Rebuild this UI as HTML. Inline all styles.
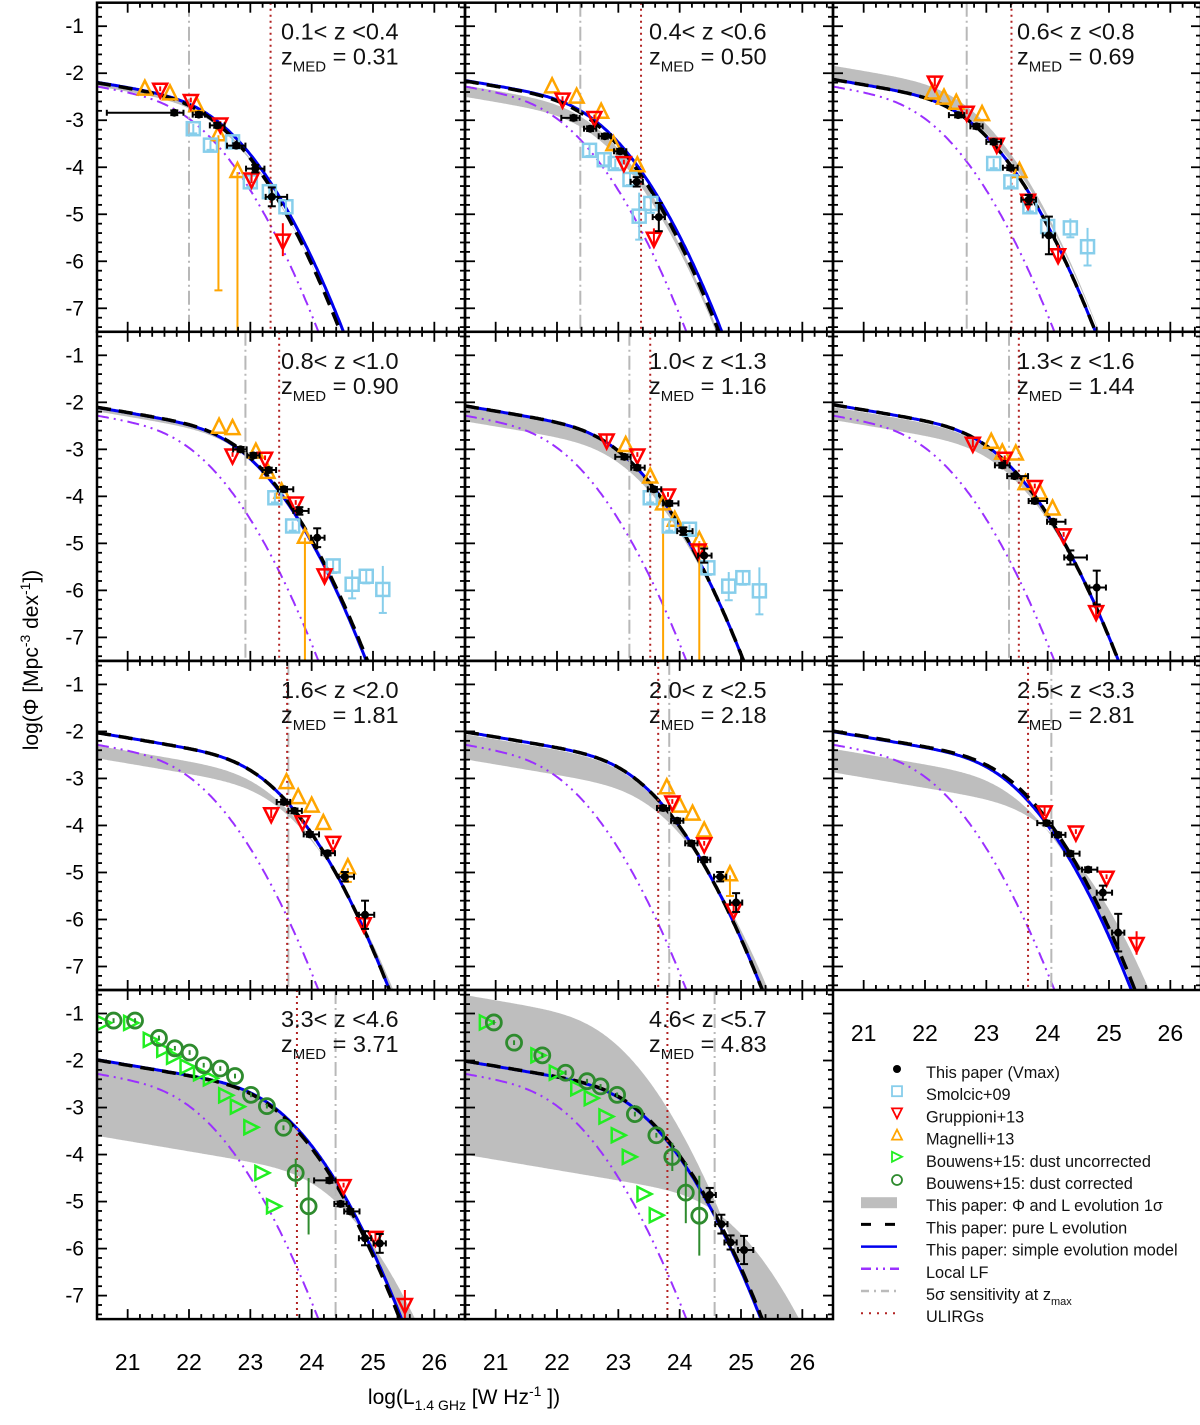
<!DOCTYPE html>
<html><head><meta charset="utf-8"><title>Radio luminosity functions</title>
<style>
html,body{margin:0;padding:0;background:#fff;overflow:hidden;width:1200px;height:1425px;}
svg{display:block;position:absolute;left:0;top:0;font-family:"Liberation Sans",Arial,sans-serif;}
</style></head>
<body>
<svg id="fig" xmlns="http://www.w3.org/2000/svg" width="1200" height="1425" viewBox="0 0 1200 1425" overflow="hidden">
<rect x="0" y="0" width="1200" height="1425" fill="#fff"/>
<text transform="translate(38,660) rotate(-90)" text-anchor="middle" font-size="21">log(Φ [Mpc<tspan dy="-8" font-size="14">-3</tspan><tspan dy="8"> dex</tspan><tspan dy="-8" font-size="14">-1</tspan><tspan dy="8">])</tspan></text>
<text x="464" y="1404" text-anchor="middle" font-size="21">log(L<tspan dy="6" font-size="14">1.4 GHz</tspan><tspan dy="-6"> [W Hz</tspan><tspan dy="-8" font-size="14">-1</tspan><tspan dy="8"> ])</tspan></text>
</svg>
<script>
// ---------- data (per panel, 11 panels) ----------
const zRanges = ["0.1< z <0.4","0.4< z <0.6","0.6< z <0.8","0.8< z <1.0","1.0< z <1.3","1.3< z <1.6","1.6< z <2.0","2.0< z <2.5","2.5< z <3.3","3.3< z <4.6","4.6< z <5.7"];
const zMeds = [0.31,0.50,0.69,0.90,1.16,1.44,1.81,2.18,2.81,3.71,4.83];
const sensLines = [22.0,22.38,22.68,22.92,23.18,23.37,23.62,23.83,24.06,24.39,24.57];
const ulirgLines = [23.33,23.37,23.41,23.47,23.52,23.53,23.60,23.65,23.68,23.76,23.80];
// band edges: [densityShift1, lumShift1, densityShift2, lumShift2]
const bandParams = [[0,0,-0.08,0.02],[-0.1,0.02,-0.35,0.06],[0,0.05,0.3,-0.03],[0,0.02,-0.1,0.05],[0,0,-0.35,0.1],[-0.05,0,-0.35,0.12],[-0.3,0.1,-0.6,0.25],[-0.05,0,-0.65,0.3],[-0.4,0.1,-1.0,0.55],[0,0,-1.8,0.85],[1.5,-0.45,-2.3,1.4]];
const blueDelta = [0.05,0.05,0.0,-0.02,0.0,0.0,0.0,0.0,-0.06,0.03,-0.02];
const xTicks = [21,22,23,24,25,26];
const yTicks = [-1,-2,-3,-4,-5,-6,-7];
// Vmax points: [logL, logPhi, xerrLo, xerrHi, yerr]
const vmaxData = [
 [[21.76,-2.84,1.1,0.15,0.05],[22.16,-2.88,0.1,0.1,0.05],[22.46,-3.11,0.12,0.12,0.05],[22.77,-3.54,0.15,0.15,0.05],[23.08,-4.03,0.15,0.15,0.08],[23.35,-4.63,0.1,0.25,0.2]],
 [[22.27,-2.95,0.2,0.1,0.05],[22.54,-3.18,0.1,0.1,0.05],[22.78,-3.34,0.1,0.1,0.05],[23.03,-3.66,0.1,0.1,0.05],[23.30,-4.31,0.1,0.1,0.1],[23.66,-5.06,0.1,0.1,0.3]],
 [[22.54,-2.89,0.15,0.1,0.05],[22.84,-3.13,0.1,0.1,0.05],[23.12,-3.46,0.12,0.12,0.05],[23.39,-4.01,0.12,0.12,0.05],[23.69,-4.69,0.12,0.12,0.1],[24.02,-5.45,0.1,0.1,0.4]],
 [[22.84,-3.00,0.12,0.1,0.05],[23.05,-3.13,0.1,0.1,0.05],[23.30,-3.44,0.1,0.12,0.05],[23.55,-3.85,0.1,0.15,0.05],[23.80,-4.31,0.1,0.15,0.08],[24.09,-4.88,0.1,0.12,0.2]],
 [[23.10,-3.16,0.15,0.1,0.05],[23.31,-3.39,0.1,0.12,0.05],[23.58,-3.85,0.1,0.12,0.05],[23.83,-4.15,0.1,0.15,0.05],[24.06,-4.74,0.1,0.15,0.08],[24.40,-5.26,0.1,0.12,0.15]],
 [[23.26,-3.34,0.12,0.12,0.05],[23.46,-3.57,0.12,0.22,0.05],[23.79,-4.10,0.1,0.2,0.05],[24.09,-4.54,0.1,0.2,0.05],[24.37,-5.30,0.1,0.27,0.15],[24.80,-5.94,0.12,0.15,0.36]],
 [[23.55,-3.50,0.12,0.1,0.05],[23.72,-3.69,0.1,0.12,0.05],[23.97,-4.19,0.1,0.15,0.05],[24.26,-4.59,0.1,0.12,0.05],[24.54,-5.09,0.1,0.15,0.1],[24.87,-5.90,0.1,0.15,0.3]],
 [[23.73,-3.63,0.1,0.1,0.05],[23.96,-3.90,0.1,0.1,0.05],[24.19,-4.38,0.1,0.1,0.05],[24.40,-4.73,0.1,0.1,0.05],[24.66,-5.09,0.1,0.1,0.1],[24.92,-5.64,0.1,0.1,0.2]],
 [[23.98,-3.95,0.15,0.1,0.05],[24.17,-4.20,0.1,0.12,0.05],[24.37,-4.60,0.1,0.15,0.05],[24.66,-4.94,0.1,0.15,0.05],[24.90,-5.43,0.1,0.15,0.15],[25.15,-6.28,0.1,0.1,0.4]],
 [[24.29,-4.55,0.25,0.1,0.05],[24.47,-5.05,0.1,0.1,0.05],[24.63,-5.21,0.1,0.15,0.05],[24.87,-5.78,0.1,0.1,0.15],[25.11,-5.89,0.1,0.1,0.2]],
 [[24.49,-4.86,0.1,0.1,0.15],[24.68,-5.48,0.1,0.1,0.2],[24.83,-5.87,0.1,0.1,0.15],[25.05,-6.03,0.1,0.15,0.3]]
];
// Smolcic+09 squares: [logL, logPhi, yerr]
const smolcicData = [
 [[22.07,-3.18,0.1],[22.35,-3.53,0.1],[22.71,-3.46,0.1],[23.0,-4.31,0.1],[23.31,-4.52,0.15],[23.58,-4.84,0.15]],
 [[22.53,-3.64,0.12],[22.77,-3.84,0.12],[22.95,-3.92,0.1],[23.19,-4.26,0.12],[23.34,-5.04,0.5],[23.53,-4.77,0.2]],
 [[23.12,-3.92,0.1],[23.40,-4.31,0.1],[23.71,-4.84,0.1],[24.0,-5.26,0.15],[24.37,-5.29,0.2],[24.65,-5.69,0.4]],
 [[23.40,-4.03,0.1],[23.69,-4.63,0.1],[24.35,-5.48,0.15],[24.66,-5.87,0.3],[24.89,-5.70,0.15],[25.16,-5.98,0.5]],
 [[23.52,-4.03,0.1],[23.83,-4.63,0.1],[24.16,-4.70,0.1],[24.46,-5.52,0.15],[24.80,-5.91,0.3],[25.03,-5.73,0.15],[25.30,-6.01,0.5]],
 [],[],[],[],[],[]
];
// Gruppioni+13 down-triangles: [logL, logPhi, yerr]
const gruppioniData = [
 [[21.53,-2.33,0.05],[22.03,-2.57,0.05],[22.51,-3.07,0.05],[23.02,-4.24,0.1],[23.53,-5.54,0.35]],
 [[22.09,-2.54,0.05],[22.61,-2.93,0.05],[23.09,-3.89,0.05],[23.58,-5.50,0.2]],
 [[22.16,-2.18,0.1],[22.68,-2.82,0.05],[23.17,-3.50,0.05],[23.68,-4.69,0.05],[24.17,-5.85,0.2]],
 [[22.71,-3.11,0.05],[23.24,-3.18,0.05],[23.74,-4.13,0.05],[24.21,-5.66,0.2]],
 [[22.81,-2.79,0.1],[23.31,-3.11,0.05],[23.81,-3.96,0.05],[24.31,-5.13,0.1]],
 [[22.78,-2.86,0.1],[23.30,-3.18,0.05],[23.79,-3.78,0.05],[24.26,-4.81,0.05],[24.79,-6.44,0.2]],
 [[23.34,-3.74,0.1],[23.85,-3.91,0.05],[24.35,-4.35,0.05],[24.85,-6.08,0.2]],
 [[23.88,-3.49,0.05],[24.40,-4.38,0.05],[24.88,-5.79,0.1]],
 [[23.95,-3.70,0.1],[24.46,-4.13,0.05],[24.96,-5.09,0.05],[25.45,-6.50,0.25]],
 [[24.52,-4.65,0.05],[25.04,-5.75,0.1],[25.52,-7.18,0.3]],
 []
];
// Magnelli+13 up-triangles: [logL, logPhi, lowerErrEnd (logPhi) or null]
const magnelliData = [
 [[21.28,-2.35,null],[21.69,-2.45,null],[22.12,-2.70,null],[22.48,-3.32,-6.62],[22.79,-4.10,-7.5]],
 [[21.92,-2.30,null],[22.32,-2.52,null],[22.72,-2.84,null],[22.92,-3.53,null],[23.31,-3.98,null]],
 [[22.12,-2.43,null],[22.31,-2.54,null],[22.51,-2.65,null],[22.93,-2.89,null],[23.54,-4.10,null]],
 [[22.49,-2.54,null],[22.71,-2.57,null],[23.09,-3.07,null],[23.28,-3.50,null],[23.51,-3.92,null],[23.89,-4.88,-7.5]],
 [[23.12,-2.93,null],[23.52,-3.60,null],[23.73,-4.17,-7.5],[23.92,-4.52,null],[24.32,-4.95,-7.5]],
 [[23.08,-2.86,null],[23.26,-3.09,null],[23.48,-3.11,null],[23.64,-3.74,null],[23.87,-3.94,null],[24.08,-4.28,null]],
 [[23.59,-3.10,null],[23.78,-3.42,null],[24.0,-3.60,null],[24.19,-3.97,null],[24.59,-4.91,-5.2]],
 [[23.79,-3.21,null],[24.0,-3.60,null],[24.21,-3.77,null],[24.40,-4.13,null],[24.82,-5.06,-5.5]],
 [],[],[]
];
// Bouwens+15 dust uncorrected (right triangles) [logL, logPhi]
const bouwensUnc = [[],[],[],[],[],[],[],[],[],
 [[20.60,-1.20],[21.04,-1.20],[21.36,-1.56],[21.58,-1.77],[21.74,-1.92],[21.96,-2.13],[22.18,-2.27],[22.34,-2.38],[22.59,-2.74],[22.78,-2.98],[23.0,-3.42],[23.18,-4.39],[23.37,-5.10]],
 [[20.84,-1.19],[21.68,-1.89],[21.98,-2.26],[22.33,-2.59],[22.55,-2.80],[22.79,-3.19],[22.99,-3.59],[23.17,-4.05],[23.41,-4.84],[23.61,-5.29]]
];
// Bouwens+15 dust corrected (circles) [logL, logPhi, yerr]
const bouwensCor = [[],[],[],[],[],[],[],[],[],
 [[20.77,-1.15,0.05],[21.12,-1.15,0.05],[21.51,-1.52,0.05],[21.77,-1.74,0.05],[22.01,-1.83,0.05],[22.24,-2.10,0.05],[22.51,-2.17,0.05],[22.75,-2.33,0.05],[23.01,-2.73,0.05],[23.27,-2.97,0.05],[23.54,-3.43,0.05],[23.74,-4.39,0.3],[23.95,-5.10,0.6]],
 [[20.97,-1.19,0.05],[21.30,-1.62,0.05],[21.76,-1.89,0.05],[22.14,-2.26,0.05],[22.49,-2.44,0.05],[22.71,-2.55,0.05],[22.98,-2.73,0.05],[23.27,-3.14,0.05],[23.62,-3.59,0.05],[23.88,-4.05,0.3],[24.10,-4.81,0.65],[24.32,-5.30,0.85]]
];

// ---------- local LF model parameters ----------
const localLF = {logPhiStar:-2.45, logLStar:21.267, alpha:1.22, sigma:0.63};

// ---------- geometry ----------
const NS='http://www.w3.org/2000/svg';
const svg=document.getElementById('fig');
const colX=[97,465,833], rowTop=2.7, rowH=329.1, panelW=368;
const XMIN=20.5, XMAX=26.5, YMAX=-0.5, YMIN=-7.5;
function mk(tag,attrs,parent){const e=document.createElementNS(NS,tag);for(const k in attrs)e.setAttribute(k,attrs[k]);(parent||svg).appendChild(e);return e;}
function logPhiModel(logL,lShift,dShift){
  const x=logL-(localLF.logLStar+lShift);
  const t=Math.log10(1+Math.pow(10,x));
  return localLF.logPhiStar+dShift+(1-localLF.alpha)*x-Math.LOG10E*t*t/(2*localLF.sigma*localLF.sigma);
}
function pleShift(z){return (3.16-0.32*z)*Math.log10(1+z);}
function clampV(v){return Math.max(YMIN-0.3,Math.min(YMAX+0.3,v));}

for(let i=0;i<11;i++){
  const c=i%3, r=Math.floor(i/3);
  const x0=colX[c], y0=rowTop+r*rowH;
  const sx=v=>x0+(v-XMIN)/(XMAX-XMIN)*panelW;
  const sy=v=>y0+(YMAX-v)/(YMAX-YMIN)*rowH;
  const g=mk('g',{});
  
  
  const cp=mk('clipPath',{id:'cp'+i},g);
  mk('rect',{x:x0,y:y0,width:panelW,height:rowH},cp);
  const pg=mk('g',{'clip-path':'url(#cp'+i+')'},g);
  const z=zMeds[i], sh=pleShift(z), bp=bandParams[i];
  // band
  const up=[],lo=[];
  for(let L=XMIN;L<=XMAX+0.001;L+=0.02){
    const a=logPhiModel(L,sh+bp[1],bp[0]), b=logPhiModel(L,sh+bp[3],bp[2]);
    up.push(sx(L).toFixed(1)+','+sy(clampV(Math.max(a,b))).toFixed(1));
    lo.unshift(sx(L).toFixed(1)+','+sy(clampV(Math.min(a,b))).toFixed(1));
  }
  const band=mk('polygon',{points:up.concat(lo).join(' '),fill:'#bebebe',stroke:'none'},pg);
  
  
  // curves
  function curve(lS,dS){const p=[];for(let L=XMIN;L<=XMAX+0.001;L+=0.02){const v=logPhiModel(L,lS,dS);p.push(sx(L).toFixed(1)+','+sy(clampV(v)).toFixed(1));if(v<YMIN-0.3)break;}return p.join(' ');}
  const loc=mk('polyline',{points:curve(0,0),fill:'none',stroke:'#9b30ff','stroke-width':2,'stroke-dasharray':'12 5 2 5 2 5'},pg);
  
  
  const bl=mk('polyline',{points:curve(sh+blueDelta[i],0),fill:'none',stroke:'#0000ee','stroke-width':3},pg);
  
  
  const bk=mk('polyline',{points:curve(sh,0),fill:'none',stroke:'#000','stroke-width':3.5,'stroke-dasharray':'14 8'},pg);
  
  
  // vertical lines
  const sl=mk('line',{x1:sx(sensLines[i]),x2:sx(sensLines[i]),y1:y0,y2:y0+rowH,stroke:'#b8b8b8','stroke-width':2,'stroke-dasharray':'14 4 2 4'},pg);
  
  
  const ul=mk('line',{x1:sx(ulirgLines[i]),x2:sx(ulirgLines[i]),y1:y0,y2:y0+rowH,stroke:'#b22222','stroke-width':2,'stroke-dasharray':'2 4'},pg);
  
  
  // magnelli
  magnelliData[i].forEach(d=>{
    const X=sx(d[0]),Y=sy(d[1]);
    if(d[2]!==null){mk('line',{x1:X,x2:X,y1:Y,y2:sy(d[2]),stroke:'#ffa500','stroke-width':2},pg);mk('line',{x1:X-4,x2:X+4,y1:sy(d[2]),y2:sy(d[2]),stroke:'#ffa500','stroke-width':2},pg);}
    const m=mk('polygon',{points:`${X},${Y-9} ${X-7},${Y+5} ${X+7},${Y+5}`,fill:'none',stroke:'#ffa500','stroke-width':2.5},pg);
    
    
  });
  // smolcic
  smolcicData[i].forEach(d=>{
    const X=sx(d[0]),Y=sy(d[1]);
    mk('line',{x1:X,x2:X,y1:sy(d[1]+d[2]),y2:sy(d[1]-d[2]),stroke:'#87ceeb','stroke-width':2},pg);
    mk('line',{x1:X-4,x2:X+4,y1:sy(d[1]-d[2]),y2:sy(d[1]-d[2]),stroke:'#87ceeb','stroke-width':2},pg);
    const m=mk('rect',{x:X-6.5,y:Y-6.5,width:13,height:13,fill:'none',stroke:'#87ceeb','stroke-width':2.5},pg);
    
    
  });
  // gruppioni
  gruppioniData[i].forEach(d=>{
    const X=sx(d[0]),Y=sy(d[1]);
    mk('line',{x1:X,x2:X,y1:sy(d[1]+d[2]),y2:sy(d[1]-d[2]),stroke:'#ff0000','stroke-width':2},pg);
    const m=mk('polygon',{points:`${X},${Y+9} ${X-7},${Y-5} ${X+7},${Y-5}`,fill:'none',stroke:'#ff0000','stroke-width':2.5},pg);
    
    
  });
  // bouwens uncorrected
  bouwensUnc[i].forEach(d=>{
    const X=sx(d[0]),Y=sy(d[1]);
    const m=mk('polygon',{points:`${X-6},${Y-7} ${X+8},${Y} ${X-6},${Y+7}`,fill:'none',stroke:'#22ee22','stroke-width':2.5},pg);
    
    
  });
  // bouwens corrected
  bouwensCor[i].forEach(d=>{
    const X=sx(d[0]),Y=sy(d[1]);
    mk('line',{x1:X,x2:X,y1:sy(d[1]+d[2]),y2:sy(d[1]-d[2]),stroke:'#2e8b2e','stroke-width':2},pg);
    const m=mk('circle',{cx:X,cy:Y,r:7.5,fill:'none',stroke:'#2e8b2e','stroke-width':2.8},pg);
    
    
  });
  // vmax
  vmaxData[i].forEach(d=>{
    const X=sx(d[0]),Y=sy(d[1]);
    mk('line',{x1:sx(d[0]-d[2]),x2:sx(d[0]+d[3]),y1:Y,y2:Y,stroke:'#000','stroke-width':2},pg);
    mk('line',{x1:sx(d[0]-d[2]),x2:sx(d[0]-d[2]),y1:Y-3,y2:Y+3,stroke:'#000','stroke-width':2},pg);
    mk('line',{x1:sx(d[0]+d[3]),x2:sx(d[0]+d[3]),y1:Y-3,y2:Y+3,stroke:'#000','stroke-width':2},pg);
    mk('line',{x1:X,x2:X,y1:sy(d[1]+d[4]),y2:sy(d[1]-d[4]),stroke:'#000','stroke-width':2},pg);
    mk('line',{x1:X-4,x2:X+4,y1:sy(d[1]+d[4]),y2:sy(d[1]+d[4]),stroke:'#000','stroke-width':2},pg);
    mk('line',{x1:X-4,x2:X+4,y1:sy(d[1]-d[4]),y2:sy(d[1]-d[4]),stroke:'#000','stroke-width':2},pg);
    const m=mk('circle',{cx:X,cy:Y,r:4,fill:'#000'},pg);
    
    
  });
  // ticks
  for(let v=21;v<=26.4;v+=0.2){const X=sx(v),maj=Math.abs(v-Math.round(v))<0.01,l=maj?10:5;
    mk('line',{x1:X,x2:X,y1:y0,y2:y0+l,stroke:'#000','stroke-width':1.8},g);
    mk('line',{x1:X,x2:X,y1:y0+rowH,y2:y0+rowH-l,stroke:'#000','stroke-width':1.8},g);}
  for(let v=-0.6;v>=-7.41;v-=0.2){const Y=sy(v),maj=Math.abs(v-Math.round(v))<0.01,l=maj?10:5;
    mk('line',{x1:x0,x2:x0+l,y1:Y,y2:Y,stroke:'#000','stroke-width':1.8},g);
    mk('line',{x1:x0+panelW,x2:x0+panelW-l,y1:Y,y2:Y,stroke:'#000','stroke-width':1.8},g);}
  const fr=mk('rect',{x:x0,y:y0,width:panelW,height:rowH,fill:'none',stroke:'#000','stroke-width':2.5},g);
  
  
  // labels
  const t1=mk('text',{x:x0+184,y:y0+37,'font-size':23.5,fill:'#111'},g);
  t1.textContent=zRanges[i];
  
  
  const t2=mk('text',{x:x0+184,y:y0+62,'font-size':23.5,fill:'#111'},g);
  t2.innerHTML='z<tspan dy="7" font-size="15">MED</tspan><tspan dy="-7"> = '+zMeds[i].toFixed(2)+'</tspan>';
  
  
  if(c===0){yTicks.forEach(v=>{const t=mk('text',{x:84,y:sy(v)+7,'text-anchor':'end','font-size':21},g);t.textContent=String(v);
    
    });}
  if(r===3||i===8){xTicks.forEach(v=>{const t=mk('text',{x:sx(v),y:y0+rowH+51,'text-anchor':'middle','font-size':23},g);t.textContent=String(v);
    
    });}
}

// ---------- legend ----------
const legendLabels=["This paper (Vmax)","Smolcic+09","Gruppioni+13","Magnelli+13","Bouwens+15: dust uncorrected","Bouwens+15: dust corrected","This paper: Φ and L evolution 1σ","This paper: pure L evolution","This paper: simple evolution model","Local LF","5σ sensitivity at z","ULIRGs"];
const lg=mk('g',{});


legendLabels.forEach((lab,k)=>{
  const y=1073+k*22.2, mx=897;
  const t=mk('text',{x:926,y:y+5,'font-size':16.3,fill:'#111'},lg);
  if(k===10){t.innerHTML='5σ sensitivity at z<tspan dy="5" font-size="11">max</tspan>';}else{t.textContent=lab;}
  
  
  if(k===0)mk('circle',{cx:mx,cy:y-4,r:4,fill:'#000'},lg);
  if(k===1)mk('rect',{x:mx-5,y:y-9,width:10,height:10,fill:'none',stroke:'#87ceeb','stroke-width':1.8},lg);
  if(k===2)mk('polygon',{points:`${mx},${y+1} ${mx-5},${y-9} ${mx+5},${y-9}`,fill:'none',stroke:'#f00','stroke-width':1.8},lg);
  if(k===3)mk('polygon',{points:`${mx},${y-10} ${mx-5},${y} ${mx+5},${y}`,fill:'none',stroke:'#ffa500','stroke-width':1.8},lg);
  if(k===4)mk('polygon',{points:`${mx-5},${y-10} ${mx+5},${y-5} ${mx-5},${y}`,fill:'none',stroke:'#22ee22','stroke-width':1.8},lg);
  if(k===5)mk('circle',{cx:mx,cy:y-4,r:5,fill:'none',stroke:'#2e8b2e','stroke-width':1.8},lg);
  if(k===6)mk('rect',{x:861,y:y-9,width:36,height:11,fill:'#bebebe'},lg);
  if(k===7)mk('line',{x1:861,x2:897,y1:y-4,y2:y-4,stroke:'#000','stroke-width':3,'stroke-dasharray':'10 14'},lg);
  if(k===8)mk('line',{x1:861,x2:897,y1:y-4,y2:y-4,stroke:'#0000ee','stroke-width':2.5},lg);
  if(k===9)mk('line',{x1:861,x2:899,y1:y-4,y2:y-4,stroke:'#9b30ff','stroke-width':2.5,'stroke-dasharray':'10 5 2 5 2 5'},lg);
  if(k===10)mk('line',{x1:861,x2:899,y1:y-4,y2:y-4,stroke:'#bbb','stroke-width':2.5,'stroke-dasharray':'8 5 2 5'},lg);
  if(k===11)mk('line',{x1:861,x2:899,y1:y-4,y2:y-4,stroke:'#b22222','stroke-width':2,'stroke-dasharray':'2 6'},lg);
});
</script>
</body></html>
